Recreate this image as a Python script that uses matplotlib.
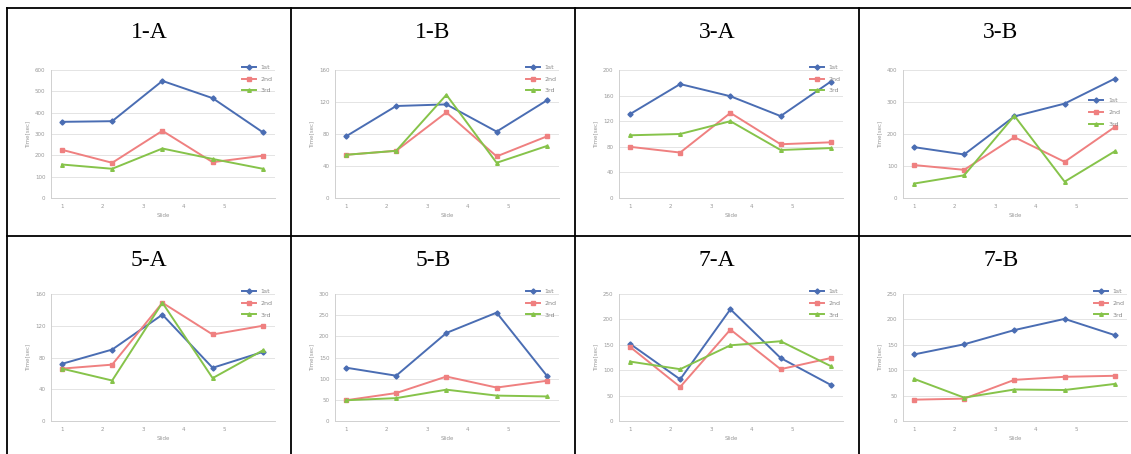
import numpy as np
import matplotlib
matplotlib.use("Agg")
import matplotlib.pyplot as plt
from matplotlib.lines import Line2D

# panel names, in table order
panels = ["1-A", "1-B", "3-A", "3-B", "5-A", "5-B", "7-A", "7-B"]

# x positions of the five points (the chart's points sit wider than its 1..5 ticks)
slide_x = [1.0, 2.24, 3.48, 4.72, 5.96]
tick_x = [1, 2, 3, 4, 5]
series_names = ["1st", "2nd", "3rd"]

# values
v_1a_1st = [357, 360, 549, 468, 308]
v_1a_2nd = [226, 165, 315, 168, 198]
v_1a_3rd = [157, 137, 232, 183, 137]

v_1b_1st = [77, 115, 117, 83, 122]
v_1b_2nd = [54, 59, 107, 52, 77]
v_1b_3rd = [54, 59, 129, 44, 65]

v_3a_1st = [131, 178, 159, 128, 182]
v_3a_2nd = [80, 71, 133, 84, 87]
v_3a_3rd = [98, 100, 120, 75, 78]

v_3b_1st = [159, 136, 255, 295, 373]
v_3b_2nd = [103, 88, 190, 113, 222]
v_3b_3rd = [45, 71, 257, 51, 146]

v_5a_1st = [72, 90, 134, 67, 87]
v_5a_2nd = [66, 71, 149, 109, 120]
v_5a_3rd = [66, 51, 149, 54, 89]

v_5b_1st = [126, 107, 208, 256, 107]
v_5b_2nd = [49, 66, 105, 79, 95]
v_5b_3rd = [49, 54, 74, 60, 58]

v_7a_1st = [152, 82, 220, 124, 71]
v_7a_2nd = [146, 67, 180, 102, 124]
v_7a_3rd = [117, 102, 149, 157, 108]

v_7b_1st = [131, 151, 179, 201, 169]
v_7b_2nd = [42, 44, 81, 87, 89]
v_7b_3rd = [83, 46, 62, 61, 73]

panel_data = [
    (v_1a_1st, v_1a_2nd, v_1a_3rd),
    (v_1b_1st, v_1b_2nd, v_1b_3rd),
    (v_3a_1st, v_3a_2nd, v_3a_3rd),
    (v_3b_1st, v_3b_2nd, v_3b_3rd),
    (v_5a_1st, v_5a_2nd, v_5a_3rd),
    (v_5b_1st, v_5b_2nd, v_5b_3rd),
    (v_7a_1st, v_7a_2nd, v_7a_3rd),
    (v_7b_1st, v_7b_2nd, v_7b_3rd),
]

# y ticks of each chart
y_ticks = [
    [0, 100, 200, 300, 400, 500, 600],
    [0, 40, 80, 120, 160],
    [0, 40, 80, 120, 160, 200],
    [0, 100, 200, 300, 400],
    [0, 40, 80, 120, 160],
    [0, 50, 100, 150, 200, 250, 300],
    [0, 50, 100, 150, 200, 250],
    [0, 50, 100, 150, 200, 250],
]

colors = ["#4a6db3", "#ef8080", "#86c34a"]
markers = ["D", "s", "^"]

W, H = 1131, 454
fig = plt.figure(figsize=(W / 100, H / 100), dpi=100)

col_x = [7, 291, 575, 859]
row_y = [8, 236]
cell_w, cell_h = 284, 228


def fx(px):
    return px / W


def fy(py):
    return 1 - py / H


# table lines
for x in col_x:
    fig.add_artist(Line2D([fx(x), fx(x)], [fy(row_y[0]), 0], color="black", lw=1.3))
for y in row_y:
    fig.add_artist(Line2D([fx(col_x[0]), 1], [fy(y), fy(y)], color="black", lw=1.3))

for i, name in enumerate(panels):
    r, c = divmod(i, 4)
    cx, cy = col_x[c], row_y[r]

    fig.text(fx(cx + cell_w / 2), fy(cy + 24), name, ha="center", va="center",
             fontsize=17, family="Liberation Serif")

    top, bottom = (62, 190) if r == 0 else (58, 185)
    left, right = 44, 268
    ax = fig.add_axes([fx(cx + left), fy(cy + bottom), fx(right - left),
                       (bottom - top) / H])

    for vals, col, mk, lab in zip(panel_data[i], colors, markers, series_names):
        ax.plot(slide_x, vals, color=col, marker=mk, markersize=2.6, lw=1.4,
                label=lab)

    ax.set_xlim(0.73, 6.26)
    ax.set_ylim(0, y_ticks[i][-1])
    ax.set_yticks(y_ticks[i])
    ax.set_xticks(tick_x)
    ax.tick_params(labelsize=4, colors="#999999", length=0, pad=4)
    ax.grid(axis="y", color="#e4e4e4", lw=0.7)
    ax.set_axisbelow(True)
    for s in ["top", "right"]:
        ax.spines[s].set_visible(False)
    for s in ["left", "bottom"]:
        ax.spines[s].set_color("#d0d0d0")
        ax.spines[s].set_linewidth(0.7)
    ax.set_ylabel("Time[sec]", fontsize=4, color="#999999", labelpad=3)
    ax.set_xlabel("Slide", fontsize=4, color="#999999", labelpad=3)

    anchor = (0.98, 0.80) if name == "3-B" else (1.0, 1.06)
    ax.legend(loc="upper right", bbox_to_anchor=anchor, frameon=False,
              fontsize=4.5, handlelength=2.2, labelspacing=1.0,
              labelcolor="#888888", borderaxespad=0)

fig.savefig("out.png", dpi=100)
